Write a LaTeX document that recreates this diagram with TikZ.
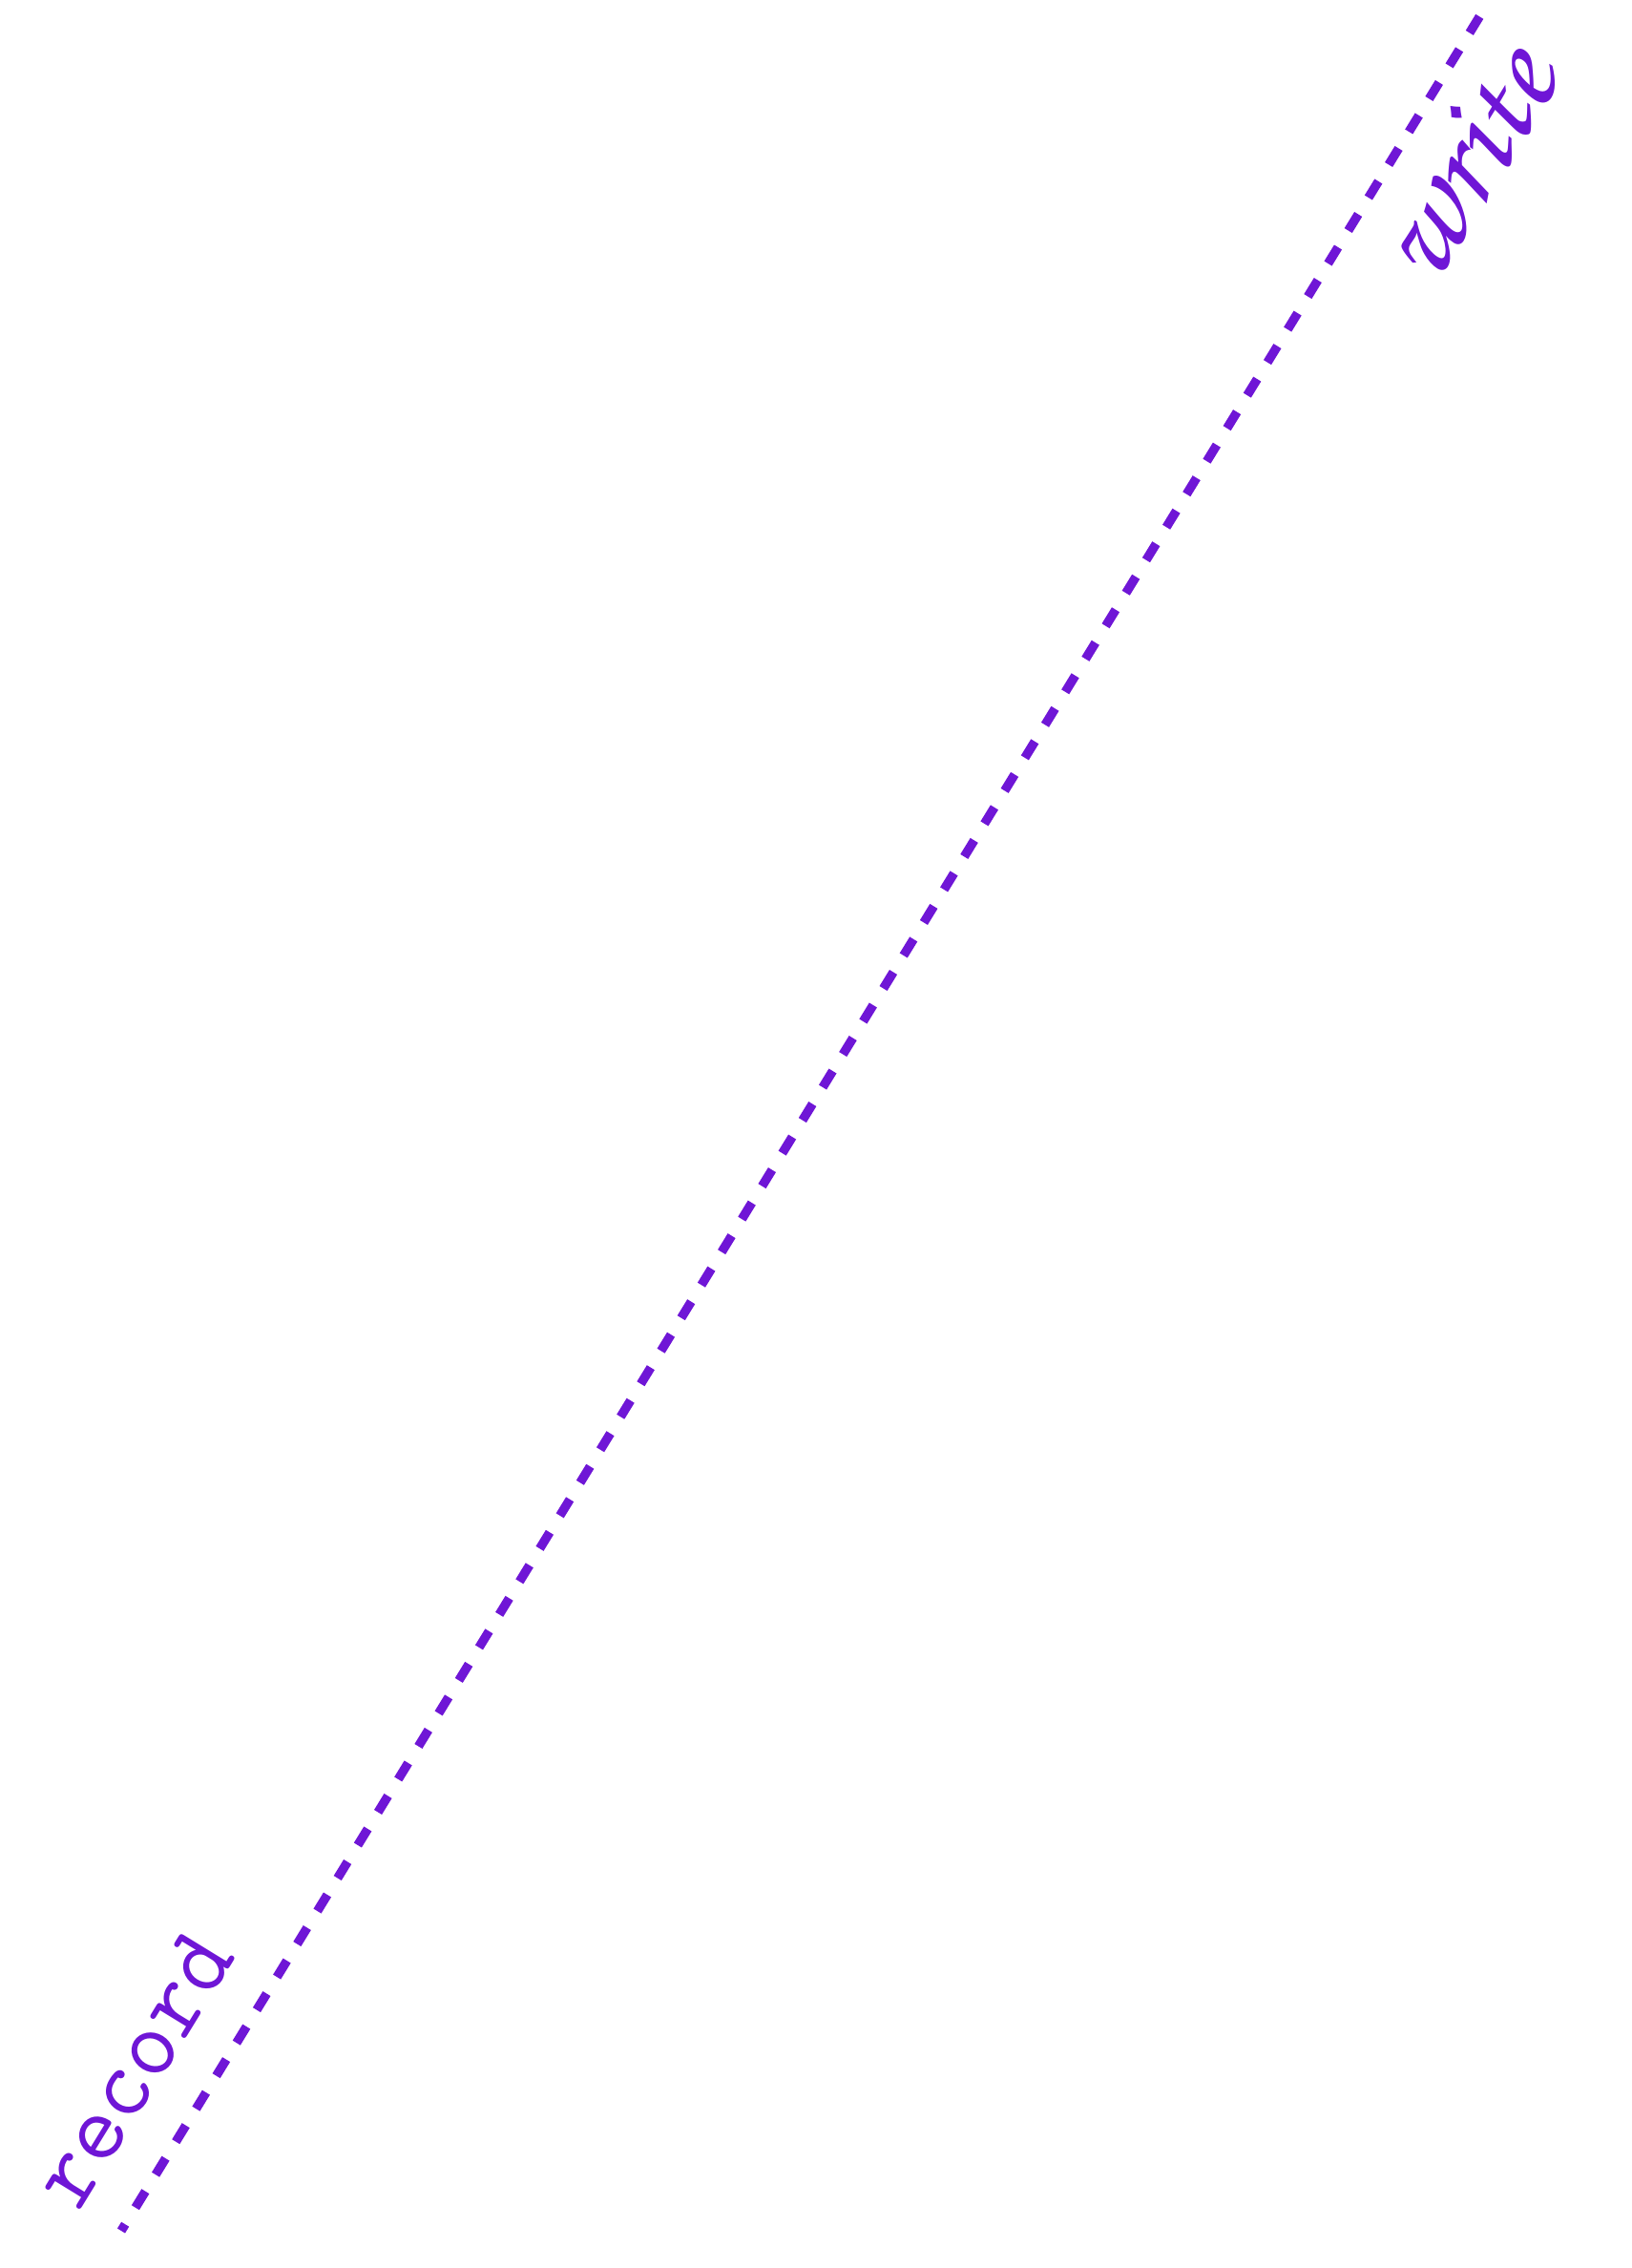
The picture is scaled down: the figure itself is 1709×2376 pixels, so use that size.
\documentclass[tikz,border=0pt]{standalone}
\usepackage[T1,TU]{fontenc}
\usepackage{tikz}
\usetikzlibrary{positioning}

\definecolor{inkpurple}{RGB}{111,22,214}
\newcommand{\handfont}{\fontencoding{T1}\fontfamily{pzc}\fontseries{mb}\fontshape{it}\selectfont}

\begin{document}
\begin{tikzpicture}[
          x=0.1mm, y=-0.1mm,
          dashline/.style={inkpurple, line width=0.95mm, dash pattern=on 2.0mm off 2.05mm, dash phase=1.2mm},
          lbl/.style={inkpurple, sloped, inner sep=0pt}
        ]
          \useasboundingbox (0,0) rectangle (1709,2376);
          \coordinate (rec) at (127,2337);
          \coordinate (wri) at (1556,8);
          \draw[dashline] (rec) -- (wri)
            node[lbl, pos=0.055, above=4.2mm, font=\ttfamily\fontsize{29}{29}\selectfont] (reclbl) {record}
            node[lbl, pos=0.945, below=1.9mm, font=\handfont\fontsize{39}{39}\selectfont] (wrilbl) {write};
        \end{tikzpicture}
\end{document}
